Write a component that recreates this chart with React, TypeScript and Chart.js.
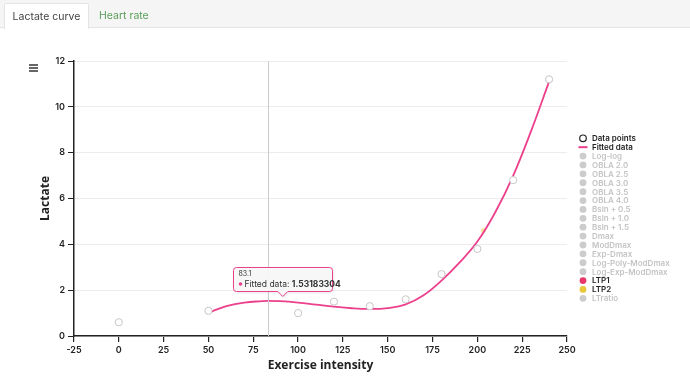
import React, { useEffect, useRef } from "react";
import { Chart, registerables } from "chart.js";
Chart.register(...registerables);

// Measured data points
const intensity = [0, 50, 100, 120, 140, 160, 180, 200, 220, 240];
const lactate = [0.6, 1.1, 1.0, 1.5, 1.3, 1.6, 2.7, 3.8, 6.8, 11.2];

// Fitted curve
const fitX = [50, 60, 70, 80, 83.1, 90, 100, 110, 120, 130, 140, 150, 160, 170, 180, 190, 200, 210, 220, 230, 240];
const fitY = [1.02, 1.3, 1.46, 1.52, 1.53183304, 1.52, 1.46, 1.37, 1.28, 1.21, 1.18, 1.22, 1.38, 1.78, 2.42, 3.2, 4.12, 5.4, 7.0, 8.95, 11.1];

// Threshold markers
const ltp2X = [203.3];
const ltp2Y = [4.6];

// Legend / method names
const hiddenMethods = [
  "Log-log", "OBLA 2.0", "OBLA 2.5", "OBLA 3.0", "OBLA 3.5", "OBLA 4.0",
  "Bsln + 0.5", "Bsln + 1.0", "Bsln + 1.5", "Dmax", "ModDmax", "Exp-Dmax",
  "Log-Poly-ModDmax", "Log-Exp-ModDmax",
];

// Axis ranges
const xMin = -25, xMax = 250, xStep = 25;
const yMin = 0, yMax = 12, yStep = 2;

// Tooltip
const tipX = 83.1;
const tipY = 1.53183304;
const tipLabel = "Fitted data";

const PINK = "#ec3f8c";
const TICK_FONT = "Inter, 'Noto Sans', sans-serif";
const TITLE_FONT = "'Open Sans', 'Noto Sans', sans-serif";

function pts(xs: number[], ys: number[]) {
  return xs.map((x, i) => ({ x, y: ys[i] }));
}

const crossTipPlugin = {
  id: "crossTip",
  afterDatasetsDraw(chart: any) {
    const { ctx, chartArea, scales } = chart;
    const px = scales.x.getPixelForValue(tipX);
    const py = scales.y.getPixelForValue(tipY);
    ctx.save();
    // crosshair
    ctx.strokeStyle = "#cccccc";
    ctx.lineWidth = 1;
    ctx.beginPath();
    ctx.moveTo(Math.round(px) + 0.5, chartArea.top);
    ctx.lineTo(Math.round(px) + 0.5, chartArea.bottom);
    ctx.stroke();
    // tooltip box
    const w = 99, h = 24;
    const cx = px + 15;
    const left = Math.round(cx - w / 2) + 0.5;
    const bottom = Math.round(py - 10) + 0.5;
    const top = bottom - h;
    const r = 3;
    const path = () => {
      ctx.beginPath();
      ctx.moveTo(left + r, top);
      ctx.lineTo(left + w - r, top);
      ctx.arcTo(left + w, top, left + w, top + r, r);
      ctx.lineTo(left + w, bottom - r);
      ctx.arcTo(left + w, bottom, left + w - r, bottom, r);
      ctx.lineTo(cx + 5, bottom);
      ctx.lineTo(cx, bottom + 5);
      ctx.lineTo(cx - 5, bottom);
      ctx.lineTo(left + r, bottom);
      ctx.arcTo(left, bottom, left, bottom - r, r);
      ctx.lineTo(left, top + r);
      ctx.arcTo(left, top, left + r, top, r);
      ctx.closePath();
    };
    path();
    ctx.save();
    ctx.shadowColor = "rgba(0,0,0,0.12)";
    ctx.shadowBlur = 3;
    ctx.shadowOffsetX = 1;
    ctx.shadowOffsetY = 1;
    ctx.fillStyle = "rgba(248,248,248,0.96)";
    ctx.fill();
    ctx.restore();
    path();
    ctx.strokeStyle = PINK;
    ctx.lineWidth = 1;
    ctx.stroke();
    // text
    ctx.textBaseline = "middle";
    ctx.textAlign = "left";
    ctx.fillStyle = "#333";
    ctx.font = `7px ${TICK_FONT}`;
    ctx.fillText(String(tipX), left + 5, top + 6.5);
    ctx.fillStyle = PINK;
    ctx.beginPath();
    ctx.arc(left + 7, top + 16.5, 1.8, 0, Math.PI * 2);
    ctx.fill();
    ctx.fillStyle = "#333";
    ctx.font = `8.5px ${TICK_FONT}`;
    const lbl = tipLabel + ": ";
    ctx.fillText(lbl, left + 11, top + 16.5);
    const lw = ctx.measureText(lbl).width;
    ctx.font = `bold 8.5px ${TICK_FONT}`;
    ctx.fillText(String(tipY), left + 11 + lw, top + 16.5);
    ctx.restore();
  },
};

const legendPlugin = {
  id: "sideLegend",
  afterDraw(chart: any) {
    const { ctx, chartArea } = chart;
    const sets = chart.data.datasets;
    const mx = chartArea.right + 16;
    const tx = chartArea.right + 25;
    const y0 = chartArea.top + 77.3;
    const step = 8.89;
    ctx.save();
    ctx.textBaseline = "middle";
    ctx.textAlign = "left";
    sets.forEach((ds: any, i: number) => {
      const y = y0 + i * step;
      const hidden = !!ds.hidden;
      if (ds.legendKind === "open") {
        ctx.beginPath();
        ctx.arc(mx, y, 3.3, 0, Math.PI * 2);
        ctx.fillStyle = "#fff";
        ctx.fill();
        ctx.strokeStyle = "#222";
        ctx.lineWidth = 1.2;
        ctx.stroke();
      } else if (ds.legendKind === "line") {
        ctx.strokeStyle = ds.borderColor;
        ctx.lineWidth = 2;
        ctx.beginPath();
        ctx.moveTo(mx - 4.5, y);
        ctx.lineTo(mx + 4.5, y);
        ctx.stroke();
      } else {
        ctx.beginPath();
        ctx.arc(mx, y, 3.4, 0, Math.PI * 2);
        ctx.fillStyle = hidden ? "#cccccc" : ds.legendColor;
        ctx.fill();
      }
      ctx.font = `600 8px ${TICK_FONT}`;
      ctx.fillStyle = hidden ? "#c4c4c4" : "#222";
      ctx.fillText(ds.label, tx, y + 0.5);
    });
    ctx.restore();
  },
};

function LactateChart() {
  const ref = useRef<HTMLCanvasElement | null>(null);
  useEffect(() => {
    if (!ref.current) return;
    const datasets: any[] = [
      {
        label: "Data points",
        legendKind: "open",
        data: pts(intensity, lactate),
        showLine: false,
        pointRadius: 3.6,
        pointBorderWidth: 1,
        pointBorderColor: "#c6c6c6",
        pointBackgroundColor: "#ffffff",
        order: 1,
      },
      {
        label: "Fitted data",
        legendKind: "line",
        data: pts(fitX, fitY),
        showLine: true,
        borderColor: PINK,
        borderWidth: 1.8,
        pointRadius: 0,
        tension: 0.4,
        order: 2,
      },
      ...hiddenMethods.map((m) => ({
        label: m,
        legendKind: "dot",
        data: [],
        hidden: true,
      })),
      {
        label: "LTP1",
        legendKind: "dot",
        legendColor: "#e8386a",
        data: [],
      },
      {
        label: "LTP2",
        legendKind: "dot",
        legendColor: "#e8c838",
        data: pts(ltp2X, ltp2Y),
        pointRadius: 2.5,
        pointBorderWidth: 0,
        pointBackgroundColor: "rgba(232,200,56,0.45)",
        order: 3,
      },
      {
        label: "LTratio",
        legendKind: "dot",
        data: [],
        hidden: true,
      },
    ];
    const chart = new Chart(ref.current, {
      type: "scatter",
      data: { datasets },
      plugins: [crossTipPlugin, legendPlugin],
      options: {
        animation: false,
        responsive: true,
        maintainAspectRatio: false,
        layout: { padding: { left: 0, top: 61, right: 123, bottom: 0 } },
        plugins: { legend: { display: false }, tooltip: { enabled: false } },
        scales: {
          x: {
            type: "linear",
            min: xMin,
            max: xMax,
            ticks: {
              stepSize: xStep,
              color: "#222",
              font: { family: TICK_FONT, size: 9, weight: "600" },
              padding: 3,
              maxRotation: 0,
            },
            grid: { drawOnChartArea: false, tickColor: "#222", tickLength: 6, lineWidth: 1.2 },
            border: { display: true, color: "#222", width: 1.5 },
            title: {
              display: true,
              text: "Exercise intensity",
              color: "#222",
              font: { family: TITLE_FONT, size: 12, weight: "bold" },
              padding: { top: 0, bottom: 5 },
            },
            afterFit: (s: any) => { s.height = 42; },
          },
          y: {
            type: "linear",
            min: yMin,
            max: yMax,
            ticks: {
              stepSize: yStep,
              color: "#222",
              font: { family: TICK_FONT, size: 9, weight: "600" },
              padding: 3,
            },
            grid: { color: "#ececec", lineWidth: 1, tickColor: "#222", tickLength: 6 },
            border: { display: true, color: "#222", width: 1.5 },
            title: {
              display: true,
              text: "Lactate",
              color: "#222",
              font: { family: TITLE_FONT, size: 12, weight: "bold" },
              padding: { top: 38, bottom: 0 },
            },
            afterFit: (s: any) => { s.width = 74; },
          },
        },
      } as any,
    });
    return () => chart.destroy();
  }, []);
  return <canvas ref={ref} />;
}

export default function App() {
  return (
    <div style={{ position: "fixed", left: 0, top: 0, width: 690, height: 378, background: "#fff", overflow: "hidden" }}>
      <div style={{ position: "absolute", left: 0, top: 0, width: 690, height: 378 }}>
        <LactateChart />
      </div>
      <div
        style={{
          position: "absolute", left: 0, top: 0, width: 690, height: 28,
          background: "#f5f5f5", borderBottom: "1px solid #e4e4e4", boxSizing: "border-box",
          fontFamily: TICK_FONT, fontSize: 10.5,
        }}
      >
        <div
          style={{
            position: "absolute", left: 4, top: 3, width: 85, height: 26, background: "#fff",
            border: "1px solid #e4e4e4", borderBottom: "none", borderRadius: "2px 2px 0 0",
            boxSizing: "border-box", color: "#444", textAlign: "center", lineHeight: "25px",
          }}
        >
          Lactate curve
        </div>
        <div style={{ position: "absolute", left: 99, top: 3, height: 25, lineHeight: "25px", color: "#5a9e5a" }}>
          Heart rate
        </div>
      </div>
      <div style={{ position: "absolute", left: 29, top: 64, width: 9 }}>
        {[0, 1, 2].map((i) => (
          <div key={i} style={{ height: 1.5, background: "#666", marginBottom: 1.5 }} />
        ))}
      </div>
    </div>
  );
}
